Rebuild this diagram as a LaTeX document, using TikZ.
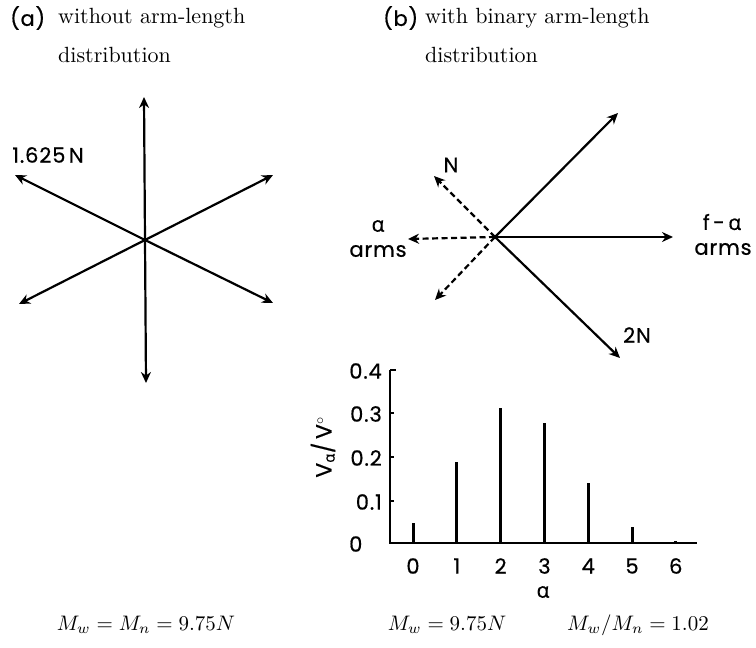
\documentclass[tikz,border=0pt]{standalone}
\usepackage{fontspec}
\usepackage{graphicx}
\usetikzlibrary{arrows.meta}
\newfontfamily\lab[FakeBold=0.6,LetterSpace=4]{Poppins}
\newfontfamily\grk[FakeBold=0.6]{Open Sans}
\begin{document}
\begin{tikzpicture}[x=1pt,y=-1pt,
  arr/.style={line width=2.2pt,-{Stealth[length=11pt,width=10pt]}},
  dsh/.style={arr,dash pattern=on 6pt off 3.5pt},
  lbl/.style={font=\lab\fontsize{21}{23}\selectfont, inner sep=0pt},
  ttl/.style={inner sep=0pt, anchor=west},
  bar/.style={line width=3pt},
  axis/.style={line width=2pt}]
\useasboundingbox (0,0) rectangle (756,648);
% titles
\node[lbl,anchor=west] (pa) at (10,18) {(a)};
\node[ttl] (ta1) at (58,18) {\scalebox{2.2}{without arm-length}};
\node[ttl] (ta2) at (58,55) {\scalebox{2.2}{distribution}};
\node[lbl,anchor=west] (pb) at (383,18) {(b)};
\node[ttl] (tb1) at (425,18) {\scalebox{2.2}{with binary arm-length}};
\node[ttl] (tb2) at (425,55) {\scalebox{2.2}{distribution}};
% star (a)
\coordinate (ca) at (145,240);
\coordinate (a1) at (144,97);
\coordinate (a2) at (146,383);
\coordinate (a3) at (15,175);
\coordinate (a4) at (273,175);
\coordinate (a5) at (19,304);
\coordinate (a6) at (273,303);
\foreach \t in {a1,a2,a3,a4,a5,a6} \draw[arr] (ca) -- (\t);
\node[lbl] (l1) at (48,155) {1.625\,N};
% star (b)
\coordinate (cb) at (495,237);
\coordinate (b1) at (618,113);
\coordinate (b2) at (673,237);
\coordinate (b3) at (620,358);
\coordinate (b4) at (434,176);
\coordinate (b5) at (408,239);
\coordinate (b6) at (435,300);
\foreach \t in {b1,b2,b3} \draw[arr] (cb) -- (\t);
\foreach \t in {b4,b5,b6} \draw[dsh] (cb) -- (\t);
\node[lbl] (ln) at (451,165) {N};
\node[lbl] (l2n) at (637,335) {2N};
\node[lbl] (lf) at (722,222) {f\,-\,{\grk α}};
\node[lbl] (lfa) at (723,249) {arms};
\node[lbl] (la) at (378,226) {{\grk α}};
\node[lbl] (laa) at (378,251) {arms};
% chart
\coordinate (o) at (390,543);
\coordinate (ytop) at (390,370);
\coordinate (xend) at (697,543);
\draw[axis] (ytop) -- (o) -- (xend);
\draw[axis] (ytop) -- ++(6,0);
\foreach \y in {413,457,501} \draw[line width=1.2pt] (390,\y) -- ++(4,0);
\foreach \i/\v in {0/0.0467,1/0.1866,2/0.311,3/0.2765,4/0.138,5/0.0369,6/0.004}{
  \draw[bar] (413+43.8*\i,543) -- ++(0,-435*\v);
  \node[lbl] (x\i) at (413+43.8*\i,566) {\i};
}
\node[lbl,anchor=east] (y4) at (382,371) {0.4};
\node[lbl,anchor=east] (y3) at (382,414) {0.3};
\node[lbl,anchor=east] (y2) at (382,458) {0.2};
\node[lbl,anchor=east] (y1) at (382,502) {0.1};
\node[lbl,anchor=west] (y0) at (349,544) {0};
\node[lbl] (xl) at (543,592) {{\grk α}};
\node[lbl,rotate=90,font=\lab\fontsize{22}{24}\selectfont] (yl) at (323,447) {V$_{\mbox{\grk\fontsize{15}{17}\selectfont α}}$/\,V$^{\circ}$};
% bottom
\node[inner sep=0pt] (ma) at (146,625) {\scalebox{2.1}{$M_w=M_n=9.75N$}};
\node[inner sep=0pt] (mb) at (447,625) {\scalebox{2.1}{$M_w=9.75N$}};
\node[inner sep=0pt] (mc) at (638,625) {\scalebox{2.1}{$M_w/M_n=1.02$}};
\end{tikzpicture}
\end{document}
